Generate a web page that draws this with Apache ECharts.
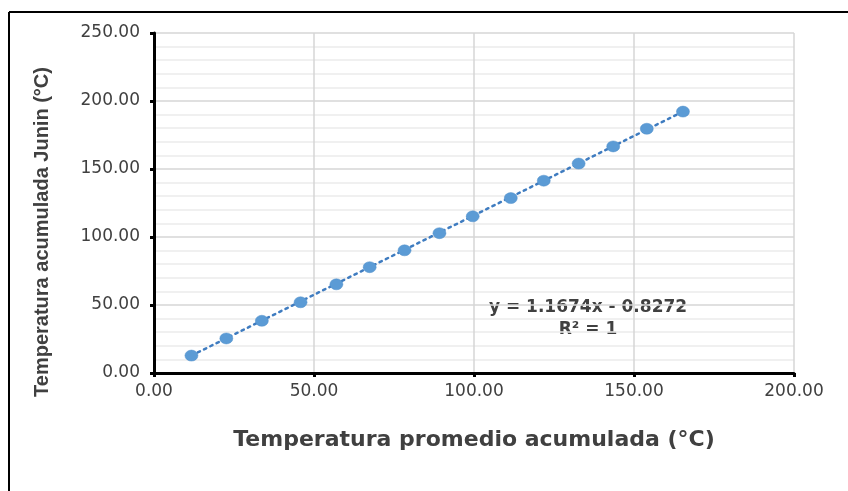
<!DOCTYPE html>
<html>
<head>
<meta charset="utf-8">
<script src="https://cdn.jsdelivr.net/npm/echarts@6/dist/echarts.min.js"></script>
<style>html,body{margin:0;padding:0;background:#fff}#c{width:848px;height:491px}</style>
</head>
<body>
<div id="c"></div>
<script>
// Data
const xValues = [11.7, 22.6, 33.7, 45.8, 57.0, 67.4, 78.3, 89.2, 99.6, 111.5, 121.8, 132.7, 143.5, 154.0, 165.3];
const yValues = [12.8, 25.4, 38.4, 52.0, 65.2, 77.8, 90.2, 102.8, 115.2, 128.6, 141.4, 154.0, 166.6, 179.6, 192.2];
const trendX = [11.7, 165.3];
const trendY = [12.8, 192.2];
const xTicks = [0, 50, 100, 150, 200];
const yTicks = [0, 50, 100, 150, 200, 250];
const xTitle = 'Temperatura promedio acumulada (°C)';
const yTitle = 'Temperatura acumulada Junin (°C)';
const equationText = 'y = 1.1674x - 0.8272';
const r2Text = 'R² = 1';

const chart = echarts.init(document.getElementById('c'), null, {renderer: 'canvas'});
const points = xValues.map((x, i) => [x, yValues[i]]);
const trend = trendX.map((x, i) => [x, trendY[i]]);
const labelColor = '#404040';
const fmt = v => Number(v).toFixed(2);

chart.setOption({
  animation: false,
  backgroundColor: '#ffffff',
  grid: {left: 154, right: 54, top: 33, bottom: 118, containLabel: false},
  xAxis: {
    type: 'value',
    min: xTicks[0], max: xTicks[xTicks.length - 1], interval: xTicks[1] - xTicks[0],
    axisLine: {show: true, onZero: false, lineStyle: {color: '#000', width: 3}},
    axisTick: {show: true, length: 4, lineStyle: {color: '#000', width: 3}},
    axisLabel: {formatter: fmt, color: labelColor, fontFamily: 'DejaVu Sans', fontSize: 17, margin: 10},
    splitLine: {show: true, lineStyle: {color: '#d6d6d6', width: 1.5}},
    name: xTitle, nameLocation: 'middle', nameGap: 56,
    nameTextStyle: {fontFamily: 'DejaVu Sans', fontWeight: 'bold', fontSize: 22, color: labelColor}
  },
  yAxis: {
    type: 'value',
    min: yTicks[0], max: yTicks[yTicks.length - 1], interval: yTicks[1] - yTicks[0],
    axisLine: {show: true, onZero: false, lineStyle: {color: '#000', width: 3}},
    axisTick: {show: true, length: 4, lineStyle: {color: '#000', width: 3}},
    axisLabel: {formatter: fmt, color: labelColor, fontFamily: 'DejaVu Sans', fontSize: 17, margin: 14},
    splitLine: {show: true, lineStyle: {color: '#d6d6d6', width: 1.5}},
    minorTick: {show: false, splitNumber: 5},
    minorSplitLine: {show: true, lineStyle: {color: '#ececec', width: 1.5}}
  },
  graphic: [
    {type: 'line', shape: {x1: 9, y1: 12, x2: 848, y2: 12}, style: {stroke: '#000', lineWidth: 2}, silent: true},
    {type: 'line', shape: {x1: 9, y1: 12, x2: 9, y2: 491}, style: {stroke: '#000', lineWidth: 2}, silent: true},
    {type: 'text', x: 42, y: 232, rotation: Math.PI / 2,
     style: {text: yTitle, fill: labelColor, font: 'bold 20px "Liberation Sans", Arial, sans-serif', align: 'center', verticalAlign: 'middle'}},
    {type: 'text', x: 588, y: 308,
     style: {text: equationText, fill: labelColor, font: 'bold 17px "DejaVu Sans", sans-serif', align: 'center', verticalAlign: 'middle'}},
    {type: 'text', x: 588, y: 330,
     style: {text: r2Text, fill: labelColor, font: 'bold 17px "DejaVu Sans", sans-serif', align: 'center', verticalAlign: 'middle'}}
  ],
  series: [
    {
      type: 'line', data: trend, symbol: 'none', silent: true, z: 2,
      lineStyle: {color: '#3f7cc0', width: 2.5, type: [2.5, 4.5], cap: 'round'}
    },
    {
      type: 'scatter', data: points, symbol: 'circle', symbolSize: [13, 11], z: 3,
      itemStyle: {color: '#5b9bd5', borderColor: '#4f8fcb', borderWidth: 0.5, opacity: 1}
    }
  ]
});
</script>
</body>
</html>
